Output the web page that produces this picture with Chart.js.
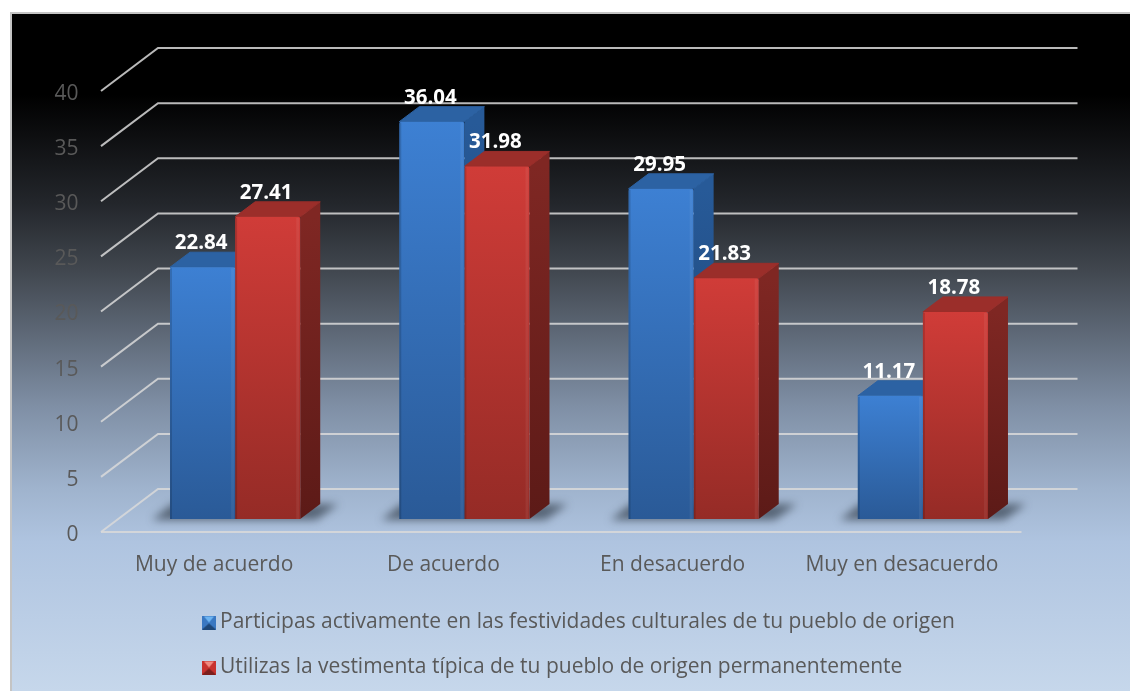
<!DOCTYPE html>
<html>
<head>
<meta charset="utf-8">
<style>
html, body { margin: 0; padding: 0; background: #fff; overflow: hidden; }
canvas { display: block; }
</style>
<script src="https://cdn.jsdelivr.net/npm/chart.js@4"></script>
</head>
<body>
<canvas id="myChart" width="1130" height="691"></canvas>
<script>
const categories = ['Muy de acuerdo', 'De acuerdo', 'En desacuerdo', 'Muy en desacuerdo'];
const festividades = [22.84, 36.04, 29.95, 11.17];
const vestimenta = [27.41, 31.98, 21.83, 18.78];
const seriesNames = [
    'Participas activamente en las festividades culturales de tu pueblo de origen',
    'Utilizas la vestimenta típica de tu pueblo de origen permanentemente'
];

const fontName = '"Open Sans", sans-serif';
const textColor = '#595959';
const gridColor = 'rgba(217, 217, 217, 0.85)';

// fake depth of the 3d columns
const depthX = 20;
const depthY = -15;

const blueFaces = { front: ['#3d80d3', '#2a5a97'], side: ['#275a98', '#1c3f6d'], top: '#2c62a3' };
const redFaces = { front: ['#d03c38', '#952b26'], side: ['#7f2723', '#5c1a17'], top: '#9b2e2a' };

const barGradient = (context, colors) => {
    const chart = context.chart;
    if (!chart.chartArea || context.parsed === undefined) {
        return colors[0];
    }
    const topY = chart.scales.y.getPixelForValue(context.parsed.y);
    const gradient = chart.ctx.createLinearGradient(0, topY, 0, chart.scales.y.getPixelForValue(0));
    gradient.addColorStop(0, colors[0]);
    gradient.addColorStop(1, colors[1]);
    return gradient;
};

const legendIcon = (light, mid, dark) => {
    // the legend centres the picture on its box, so the square sits right of centre
    const icon = document.createElement('canvas');
    icon.width = 28;
    icon.height = 14;
    const c = icon.getContext('2d');
    c.translate(11, 0);
    c.fillStyle = mid;
    c.fillRect(0, 0, 14, 14);
    c.fillStyle = dark;
    c.beginPath();
    c.moveTo(0, 14);
    c.lineTo(7, 8);
    c.lineTo(14, 14);
    c.fill();
    c.fillStyle = light;
    c.beginPath();
    c.moveTo(2, 1);
    c.lineTo(12, 1);
    c.lineTo(7, 7);
    c.fill();
    return icon;
};

const polygon = (ctx, points) => {
    ctx.beginPath();
    points.forEach((p, i) => i ? ctx.lineTo(p[0], p[1]) : ctx.moveTo(p[0], p[1]));
    ctx.closePath();
};

const backdropPlugin = {
    id: 'backdrop',
    afterLayout(chart) {
        // legend sits below the axis, both rows flush left
        chart.legend.left = 176.5;
        chart.legend.top = 588;
        chart.legend.right = chart.width;
        chart.legend.bottom = chart.height + 40;
    },
    beforeDraw(chart) {
        const { ctx, width, height } = chart;
        const gradient = ctx.createLinearGradient(0, 13, 0, height);
        gradient.addColorStop(0, '#000000');
        gradient.addColorStop(0.12, '#000000');
        gradient.addColorStop(0.28, '#23262b');
        gradient.addColorStop(0.38, '#41474f');
        gradient.addColorStop(0.58, '#7f8fa5');
        gradient.addColorStop(0.7, '#9fb3cd');
        gradient.addColorStop(0.78, '#afc4e0');
        gradient.addColorStop(1, '#c6d7eb');
        ctx.save();
        ctx.fillStyle = '#c4c4c4';
        ctx.fillRect(10, 12, width - 10, height - 12);
        ctx.fillStyle = gradient;
        ctx.fillRect(12, 14, width - 12, height - 14);
        ctx.restore();
    }
};

const depthPlugin = {
    id: 'depth',
    beforeDatasetsDraw(chart) {
        const { ctx, scales } = chart;
        const y = scales.y;
        const right = scales.x.right;

        ctx.save();
        ctx.strokeStyle = gridColor;
        ctx.lineWidth = 2;
        y.ticks.forEach((tick) => {
            const p = y.getPixelForValue(tick.value);
            ctx.beginPath();
            ctx.moveTo(101, p + 13);
            ctx.lineTo(158, p - 30);
            ctx.lineTo(right + 40, p - 30);
            ctx.stroke();
        });
        const floor = y.getPixelForValue(0);
        ctx.beginPath();
        ctx.moveTo(101, floor + 13);
        ctx.lineTo(right - 16, floor + 13);
        ctx.stroke();

        const blues = chart.getDatasetMeta(0).data;
        const reds = chart.getDatasetMeta(1).data;

        // soft shadow on the floor under every pair of columns
        ctx.save();
        ctx.filter = 'blur(4px)';
        ctx.fillStyle = 'rgba(45, 55, 68, 0.65)';
        blues.forEach((bar, i) => {
            const l = bar.x - bar.width / 2;
            const r = reds[i].x + reds[i].width / 2;
            polygon(ctx, [[l - 18, floor + 1], [l + 2, floor + depthY], [r + 38, floor + depthY], [r + 16, floor + 1]]);
            ctx.fill();
        });
        ctx.restore();

        [[blues, blueFaces], [reds, redFaces]].forEach(([bars, faces]) => {
            bars.forEach((bar) => {
                const l = bar.x - bar.width / 2;
                const r = bar.x + bar.width / 2;
                const side = ctx.createLinearGradient(0, bar.y, 0, bar.base);
                side.addColorStop(0, faces.side[0]);
                side.addColorStop(1, faces.side[1]);
                ctx.fillStyle = side;
                polygon(ctx, [[r, bar.y], [r + depthX, bar.y + depthY], [r + depthX, bar.base + depthY], [r, bar.base]]);
                ctx.fill();
                ctx.fillStyle = faces.top;
                ctx.strokeStyle = faces.top;
                ctx.lineWidth = 1;
                ctx.lineJoin = 'round';
                polygon(ctx, [[l, bar.y], [l + depthX, bar.y + depthY], [r + depthX, bar.y + depthY], [r, bar.y]]);
                ctx.fill();
                ctx.stroke();
            });
        });
        ctx.restore();
    },
    afterDatasetsDraw(chart) {
        const { ctx } = chart;
        ctx.save();
        [0, 1].forEach((index) => {
            chart.getDatasetMeta(index).data.forEach((bar, i) => {
                const l = bar.x - bar.width / 2;
                const r = bar.x + bar.width / 2;
                const h = bar.base - bar.y;
                // bevel on the column edges
                ctx.fillStyle = 'rgba(255, 255, 255, 0.06)';
                ctx.fillRect(r - 4, bar.y + 1, 3, h - 1);
                ctx.fillStyle = 'rgba(0, 0, 0, 0.15)';
                ctx.fillRect(l, bar.y + 1, 2, h - 1);

                ctx.fillStyle = '#ffffff';
                ctx.font = 'bold 20.5px ' + fontName;
                ctx.textAlign = 'center';
                ctx.textBaseline = 'middle';
                ctx.fillText(chart.data.datasets[index].data[i].toFixed(2), bar.x - 1.5, bar.y - 24);
            });
        });
        ctx.restore();
    }
};

new Chart(document.getElementById('myChart'), {
    type: 'bar',
    data: {
        labels: categories,
        datasets: [{
            label: seriesNames[0],
            data: festividades,
            backgroundColor: (context) => barGradient(context, blueFaces.front),
            borderRadius: { topLeft: 2, topRight: 2 }
        }, {
            label: seriesNames[1],
            data: vestimenta,
            backgroundColor: (context) => barGradient(context, redFaces.front),
            borderRadius: { topLeft: 2, topRight: 2 }
        }]
    },
    options: {
        responsive: false,
        animation: false,
        categoryPercentage: 0.568,
        barPercentage: 1,
        layout: { padding: { top: 78, right: 92.5, left: 0, bottom: 0 } },
        scales: {
            x: {
                grid: { display: false },
                border: { display: false },
                afterFit: (scale) => { scale.height = 172; },
                ticks: {
                    color: textColor,
                    font: { family: fontName, size: 21 },
                    padding: 25,
                    labelOffset: -21,
                    maxRotation: 0,
                    autoSkip: false
                }
            },
            y: {
                min: 0,
                max: 40,
                grid: { display: false },
                border: { display: false },
                afterFit: (scale) => { scale.width = 120.5; },
                ticks: {
                    stepSize: 5,
                    color: textColor,
                    font: { family: fontName, size: 21 },
                    padding: 34,
                    labelOffset: 16
                }
            }
        },
        plugins: {
            tooltip: { enabled: false },
            legend: {
                position: 'chartArea',
                align: 'start',
                labels: {
                    color: textColor,
                    font: { family: fontName, size: 21 },
                    padding: 24,
                    usePointStyle: true,
                    pointStyleWidth: 9,
                    generateLabels: () => [
                        { text: seriesNames[0], fontColor: textColor, pointStyle: legendIcon('#6db4f2', '#3a78c2', '#1e4778'), datasetIndex: 0 },
                        { text: seriesNames[1], fontColor: textColor, pointStyle: legendIcon('#f08a80', '#c8322e', '#7c1f1c'), datasetIndex: 1 }
                    ]
                }
            }
        }
    },
    plugins: [backdropPlugin, depthPlugin]
});
</script>
</body>
</html>
